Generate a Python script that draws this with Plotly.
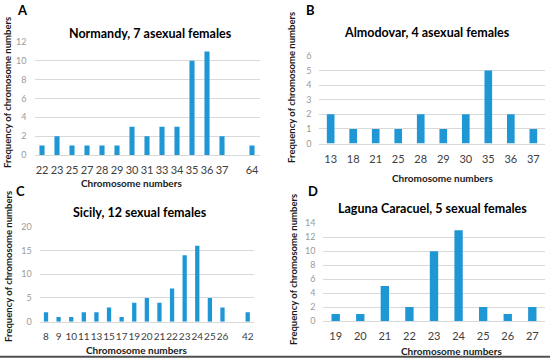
import plotly.graph_objects as go

W, H = 550, 358

# ---------------- data ----------------
a_cats = ["22", "23", "25", "27", "28", "29", "30", "31", "33", "34", "35", "36", "37", " ", "64"]
a_vals = [1, 2, 1, 1, 1, 1, 3, 2, 3, 3, 10, 11, 2, None, 1]

b_cats = ["13", "18", "21", "25", "28", "29", "30", "35", "36", "37"]
b_vals = [2, 1, 1, 1, 2, 1, 2, 5, 2, 1]

c_cats = ["8", "9", "10", "11", "13", "15", "17", "19", "20", "21", "22", "23", "24", "25", "26", " ", "42"]
c_vals = [2, 1, 1, 2, 2, 3, 1, 4, 5, 4, 7, 14, 16, 5, 3, None, 2]

d_cats = ["19", "20", "21", "22", "23", "24", "25", "26", "27"]
d_vals = [1, 1, 5, 2, 10, 13, 2, 1, 2]

titles = ["Normandy, 7 asexual females", "Almodovar, 4 asexual females",
          "Sicily, 12 sexual females", "Laguna Caracuel, 5 sexual females"]
letters = ["A", "B", "C", "D"]
y_ranges = [(0, 12, 2), (0, 6, 1), (0, 20, 5), (0, 14, 2)]
x_title = "Chromosome numbers"
y_title = "Frequency of chromosome numbers"

# ---------------- layout helpers ----------------
def px(x):
    return x / W

def py(y):
    return 1 - y / H

# plot areas in pixels: (x0, x1, y_bottom, y_top)
areas = [
    (34.5, 259.5, 155.0, 42.0),
    (319.4, 544.6, 143.5, 56.0),
    (39.7, 254.0, 321.7, 226.7),
    (323.4, 544.6, 321.0, 223.3),
]
letter_pos = [(22, 10), (310, 10), (20, 191), (313, 191)]
title_pos = [(150, 33), (427, 32), (140, 212), (432, 208)]
xtitle_pos = [(131, 183), (442, 178), (136, 350), (451, 351)]
ytitle_pos = [(8, 93), (292, 88), (8, 267), (293, 270)]

FONT = "Lato, 'Noto Sans', sans-serif"
BAR = "#1F97D5"

fig = go.Figure()
datasets = [(a_cats, a_vals), (b_cats, b_vals), (c_cats, c_vals), (d_cats, d_vals)]


def note(text, x, y, size, color, angle=0):
    return dict(text=text, x=px(x), y=py(y), xref="paper", yref="paper",
                xanchor="center", yanchor="middle", showarrow=False, textangle=angle,
                font=dict(family=FONT, size=size, color=color))


annotations = []
for i, (cats, vals) in enumerate(datasets):
    n = i + 1
    xa = "x" if n == 1 else f"x{n}"
    ya = "y" if n == 1 else f"y{n}"
    fig.add_trace(go.Bar(x=cats, y=vals, xaxis=xa, yaxis=ya,
                         marker=dict(color=BAR, line=dict(width=0)),
                         showlegend=False, hoverinfo="x+y"))
    x0, x1, yb, yt = areas[i]
    lo, hi, dt = y_ranges[i]
    xkey = "xaxis" if n == 1 else f"xaxis{n}"
    ykey = "yaxis" if n == 1 else f"yaxis{n}"
    fig.update_layout(**{
        xkey: dict(domain=[px(x0), px(x1)], anchor=ya, type="category",
                   categoryorder="array", categoryarray=cats,
                   tickmode="array", tickvals=cats, ticktext=cats,
                   range=[-0.5, len(cats) - 0.5], automargin=False, tickangle=0,
                   showgrid=False, showline=True, linecolor="#D9D9D9", linewidth=1,
                   ticks="", ticklabelstandoff=5,
                   tickfont=dict(family=FONT, size=10 if n == 3 else 11, color="#404040"),
                   fixedrange=True),
        ykey: dict(domain=[py(yb), py(yt)], anchor=xa, range=[lo, hi], dtick=dt,
                   automargin=False,
                   showgrid=True, gridcolor="#D9D9D9", gridwidth=1,
                   zeroline=False, showline=False, ticks="", ticklabelstandoff=7,
                   tickfont=dict(family=FONT, size=9, color="#9A9A9A"),
                   fixedrange=True),
    })
    lx, ly = letter_pos[i]
    annotations.append(note(f"<b>{letters[i]}</b>", lx, ly, 13, "#000000"))
    tx, ty = title_pos[i]
    annotations.append(note(f"<b>{titles[i]}</b>", tx, ty, 12.5, "#000000"))
    ax_, ay_ = xtitle_pos[i]
    annotations.append(note(f"<b>{x_title}</b>", ax_, ay_, 10, "#1A1A1A"))
    bx, by = ytitle_pos[i]
    annotations.append(note(f"<b>{y_title}</b>", bx, by, 9.5, "#1A1A1A", angle=-90))

fig.update_layout(
    width=W, height=H,
    margin=dict(l=0, r=0, t=0, b=0, autoexpand=False),
    paper_bgcolor="white", plot_bgcolor="white",
    bargap=0.66,
    annotations=annotations,
    shapes=[dict(type="line", xref="paper", yref="paper", x0=0, x1=1,
                 y0=py(356.8), y1=py(356.8), line=dict(color="#505050", width=2))],
)

fig.write_html("out.html", config={"displayModeBar": False},
               post_script="document.body.style.margin='0';document.body.style.overflow='hidden';")
